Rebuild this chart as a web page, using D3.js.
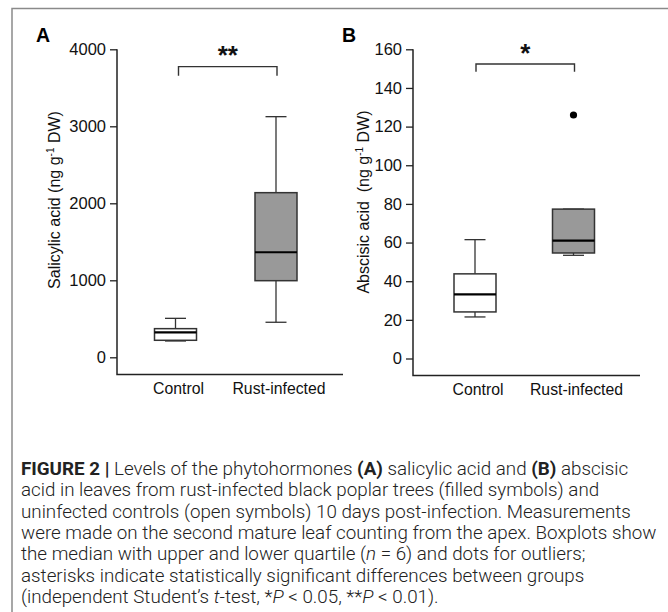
<!DOCTYPE html>
<html>
<head>
<meta charset="utf-8">
<title>Figure 2</title>
<style>
  body { margin: 0; background: #fff; }
  svg { display: block; }
</style>
</head>
<body>
<svg id="fig"></svg>
<script src="https://d3js.org/d3.v7.min.js"></script>
<script>
var categories = ["Control", "Rust-infected"];

// panel A: salicylic acid (ng g-1 DW)
var saTicks = [0, 1000, 2000, 3000, 4000];
var saWhiskerLow = [212, 455];
var saQ1 = [221, 995];
var saMedian = [325, 1364];
var saQ3 = [372, 2138];
var saWhiskerHigh = [506, 3125];
var saOutliers = [[], []];

// panel B: abscisic acid (ng g-1 DW)
var abaTicks = [0, 20, 40, 60, 80, 100, 120, 140, 160];
var abaWhiskerLow = [21.5, 53.4];
var abaQ1 = [24.1, 54.6];
var abaMedian = [33.2, 61.0];
var abaQ3 = [43.8, 77.3];
var abaWhiskerHigh = [61.5, 77.3];
var abaOutliers = [[], [126]];

var fills = ["#ffffff", "#999999"];

var width = 668, height = 612;
var svg = d3.select("#fig").attr("width", width).attr("height", height);

// frame (only top and left edges fall inside the picture)
svg.append("path")
    .attr("d", "M12,620V8.5H680")
    .attr("fill", "none")
    .attr("stroke", "#8a8a8a")
    .attr("stroke-width", 1.5);

function panel(o) {
    var g = svg.append("g");
    var y = d3.scaleLinear().domain(o.domain).range(o.yRange);
    var x = d3.scalePoint().domain(categories).range(o.xRange);

    // y axis
    var ya = g.append("g")
        .attr("transform", `translate(${o.axisX},0)`)
        .call(d3.axisLeft(y).tickValues(o.ticks).tickFormat(d3.format("d"))
            .tickSize(7).tickPadding(4).tickSizeOuter(0));
    ya.select(".domain").remove();
    ya.selectAll("line").attr("stroke", "#222").attr("stroke-width", 1.3);
    ya.selectAll("text")
        .attr("font-family", "'Liberation Sans', Arial, sans-serif")
        .attr("font-size", 16.5)
        .attr("fill", "#111");

    g.append("path")
        .attr("d", `M${o.axisX},${y(o.domain[1])}V${o.baseY}H${o.axisEnd}`)
        .attr("fill", "none")
        .attr("stroke", "#222")
        .attr("stroke-width", 1.5);

    // category labels
    g.selectAll(".cat").data(categories).join("text")
        .attr("x", d => x(d) + 3)
        .attr("y", o.baseY + 19)
        .attr("text-anchor", "middle")
        .attr("font-family", "'Liberation Sans', Arial, sans-serif")
        .attr("font-size", 15.8)
        .attr("fill", "#111")
        .text(d => d);

    // boxes
    var bw = 42, cw = 21;
    categories.forEach(function (c, i) {
        var cx = x(c);
        var s = o.stats;
        g.append("line")
            .attr("x1", cx).attr("x2", cx)
            .attr("y1", y(s.hi[i])).attr("y2", y(s.q3[i]))
            .attr("stroke", "#333").attr("stroke-width", 1.3);
        g.append("line")
            .attr("x1", cx).attr("x2", cx)
            .attr("y1", y(s.q1[i])).attr("y2", y(s.lo[i]))
            .attr("stroke", "#333").attr("stroke-width", 1.3);
        [s.hi[i], s.lo[i]].forEach(function (v) {
            g.append("line")
                .attr("x1", cx - cw / 2).attr("x2", cx + cw / 2)
                .attr("y1", y(v)).attr("y2", y(v))
                .attr("stroke", "#333").attr("stroke-width", 1.3);
        });
        g.append("rect")
            .attr("x", cx - bw / 2)
            .attr("y", y(s.q3[i]))
            .attr("width", bw)
            .attr("height", y(s.q1[i]) - y(s.q3[i]))
            .attr("fill", fills[i])
            .attr("stroke", "#333").attr("stroke-width", 1.5);
        g.append("line")
            .attr("x1", cx - bw / 2).attr("x2", cx + bw / 2)
            .attr("y1", y(s.med[i])).attr("y2", y(s.med[i]))
            .attr("stroke", "#000").attr("stroke-width", 2.2);
        s.out[i].forEach(function (v) {
            g.append("circle")
                .attr("cx", cx).attr("cy", y(v)).attr("r", 3.6)
                .attr("fill", "#000");
        });
    });

    // significance bracket
    var bx1 = x(categories[0]) + o.brOff[0], bx2 = x(categories[1]) + o.brOff[1];
    var by = y(o.bracket[0]), bd = y(o.bracket[1]);
    g.append("path")
        .attr("d", `M${bx1},${bd}V${by}H${bx2}V${bd}`)
        .attr("fill", "none")
        .attr("stroke", "#333")
        .attr("stroke-width", 1.4);
    g.append("text")
        .attr("x", (bx1 + bx2) / 2)
        .attr("y", by - 14)
        .attr("text-anchor", "middle")
        .attr("font-family", "'Liberation Sans', Arial, sans-serif")
        .attr("font-weight", "bold")
        .attr("font-size", 26)
        .attr("fill", "#111")
        .attr("dy", "0.45em")
        .text(o.stars);

    // panel letter
    g.append("text")
        .attr("x", o.letterX).attr("y", 42)
        .attr("font-family", "'Liberation Sans', Arial, sans-serif")
        .attr("font-weight", "bold")
        .attr("font-size", 19.5)
        .attr("fill", "#000")
        .text(o.letter);

    // y title
    var t = g.append("text")
        .attr("transform", `translate(${o.titleX},${o.titleY}) rotate(-90)`)
        .attr("text-anchor", "middle")
        .attr("font-family", "'Liberation Sans', Arial, sans-serif")
        .attr("font-size", 16)
        .attr("fill", "#111")
        .attr("xml:space", "preserve");
    t.append("tspan").text(o.title + " (ng g");
    t.append("tspan").attr("font-size", 10).attr("dy", -6).text("-1");
    t.append("tspan").attr("dy", 6).text(" DW)");
}

panel({
    letter: "A", letterX: 36,
    domain: [0, 4000], yRange: [357.3, 49.3], ticks: saTicks,
    xRange: [175.5, 276], axisX: 117, axisEnd: 343, baseY: 374.5,
    stats: { lo: saWhiskerLow, q1: saQ1, med: saMedian, q3: saQ3, hi: saWhiskerHigh, out: saOutliers },
    bracket: [3775, 3655], brOff: [3, 1], stars: "**",
    title: "Salicylic acid", titleX: 60, titleY: 200
});

panel({
    letter: "B", letterX: 342,
    domain: [0, 160], yRange: [358.5, 49.3], ticks: abaTicks,
    xRange: [475, 573.5], axisX: 413, axisEnd: 640, baseY: 375.5,
    stats: { lo: abaWhiskerLow, q1: abaQ1, med: abaMedian, q3: abaQ3, hi: abaWhiskerHigh, out: abaOutliers },
    bracket: [152.4, 148.4], brOff: [1, 1], stars: "*",
    title: "Abscisic acid ", titleX: 369, titleY: 202
});

// caption
var capLines = [
    [["FIGURE 2 | ", "b"], ["Levels of the phytohormones "], ["(A)", "b"], [" salicylic acid and "], ["(B)", "b"], [" abscisic"]],
    [["acid in leaves from rust-infected black poplar trees (filled symbols) and"]],
    [["uninfected controls (open symbols) 10 days post-infection. Measurements"]],
    [["were made on the second mature leaf counting from the apex. Boxplots show"]],
    [["the median with upper and lower quartile ("], ["n", "i"], [" = 6) and dots for outliers;"]],
    [["asterisks indicate statistically significant differences between groups"]],
    [["(independent Student\u2019s "], ["t", "i"], ["-test, *"], ["P", "i"], [" < 0.05, **"], ["P", "i"], [" < 0.01)."]]
];

var cap = svg.append("g")
    .attr("font-family", "Roboto, 'Liberation Sans', sans-serif")
    .attr("font-weight", 300)
    .attr("font-size", 18.8)
    .attr("fill", "#222");

capLines.forEach(function (line, i) {
    var t = cap.append("text")
        .attr("x", 21)
        .attr("y", 475 + i * 21.3)
        .attr("xml:space", "preserve");
    line.forEach(function (seg) {
        var s = t.append("tspan").text(seg[0]);
        if (seg[1] === "b") s.attr("font-weight", 700);
        if (seg[1] === "i") s.attr("font-style", "italic");
    });
});
</script>
</body>
</html>
